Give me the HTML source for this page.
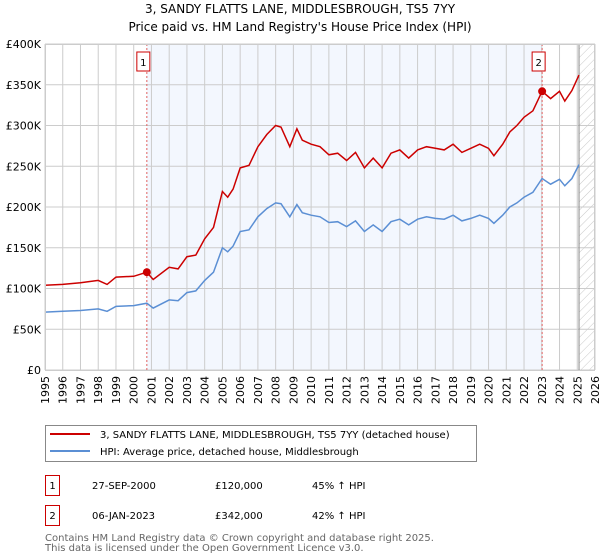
<!DOCTYPE html>
<html><head><meta charset="utf-8"><style>
body{margin:0;background:#fff;}
svg{display:block;font-family:"DejaVu Sans","Liberation Sans",sans-serif;}
</style></head><body>
<svg id="chart" width="600" height="560" viewBox="0 0 600 560">
<defs>
<pattern id="hatch" width="6" height="6" patternUnits="userSpaceOnUse" patternTransform="rotate(45)">
<line x1="0" y1="0" x2="0" y2="6" stroke="#bbb" stroke-width="0.8"/>
</pattern>
</defs>
<text x="300" y="13" text-anchor="middle" font-size="12" fill="#000">3, SANDY FLATTS LANE, MIDDLESBROUGH, TS5 7YY</text>
<text x="300" y="31" text-anchor="middle" font-size="12" fill="#000">Price paid vs. HM Land Registry's House Price Index (HPI)</text>
<g id="plot"></g>
<g>
<rect x="45.5" y="425.5" width="431" height="36" fill="#fff" stroke="#888"/>
<line x1="50" y1="434" x2="90" y2="434" stroke="#cc0000" stroke-width="2"/>
<text x="100" y="438" font-size="10">3, SANDY FLATTS LANE, MIDDLESBROUGH, TS5 7YY (detached house)</text>
<line x1="50" y1="451" x2="90" y2="451" stroke="#5b8fd4" stroke-width="2"/>
<text x="100" y="455" font-size="10">HPI: Average price, detached house, Middlesbrough</text>
</g>
<g font-size="10">
<rect x="45.5" y="475.5" width="14" height="20" fill="#fff" stroke="#cc0000"/>
<text x="52.5" y="489" text-anchor="middle">1</text>
<text x="92" y="489">27-SEP-2000</text>
<text x="215" y="489">£120,000</text>
<text x="312" y="489">45% ↑ HPI</text>
<rect x="45.5" y="505.5" width="14" height="20" fill="#fff" stroke="#cc0000"/>
<text x="52.5" y="519" text-anchor="middle">2</text>
<text x="92" y="519">06-JAN-2023</text>
<text x="215" y="519">£342,000</text>
<text x="312" y="519">42% ↑ HPI</text>
</g>
<text x="45" y="541" font-size="10" fill="#666">Contains HM Land Registry data © Crown copyright and database right 2025.</text>
<text x="45" y="551" font-size="10" fill="#666">This data is licensed under the Open Government Licence v3.0.</text>
</svg>
<script>
const years=[1995,1996,1997,1998,1998.5,1999,2000,2000.74,2001.1,2002,2002.5,2003,2003.5,2004,2004.5,2005,2005.3,2005.6,2006,2006.5,2007,2007.5,2008,2008.3,2008.8,2009.2,2009.5,2010,2010.5,2011,2011.5,2012,2012.5,2013,2013.5,2014,2014.5,2015,2015.5,2016,2016.5,2017,2017.5,2018,2018.5,2019,2019.5,2020,2020.3,2020.8,2021.2,2021.6,2022,2022.5,2023.02,2023.5,2024,2024.3,2024.7,2025.1];
const hpiValues=[71,72,73,75,72,78,79,82,76,86,85,95,97,110,120,150,145,152,170,172,188,198,205,204,188,203,193,190,188,181,182,176,183,170,178,170,182,185,178,185,188,186,185,190,183,186,190,186,180,190,200,205,212,218,235,228,234,226,235,252];
const priceValues=[104,105,107,110,105,114,115,120,111,126,124,139,141,161,175,219,212,222,248,251,274,289,300,298,274,296,282,277,274,264,266,257,267,248,260,248,266,270,260,270,274,272,270,277,267,272,277,272,263,277,292,300,310,318,342,333,342,330,343,362];
const saleYears=[2000.74,2023.02];
const salePrices=[120,342];
const saleLabels=["1","2"];
const yTicks=[0,50,100,150,200,250,300,350,400];
const yTickLabels=["£0","£50K","£100K","£150K","£200K","£250K","£300K","£350K","£400K"];
const xTicks=[1995,1996,1997,1998,1999,2000,2001,2002,2003,2004,2005,2006,2007,2008,2009,2010,2011,2012,2013,2014,2015,2016,2017,2018,2019,2020,2021,2022,2023,2024,2025,2026];

const X0=45,X1=595,Y0=370,Y1=44;
const xs=y=>X0+(y-1995)/(2026-1995)*(X1-X0);
const ys=v=>Y0-v/400*(Y0-Y1);
const NS="http://www.w3.org/2000/svg";
const g=document.getElementById('plot');
function mk(tag,attrs){const e=document.createElementNS(NS,tag);for(const k in attrs)e.setAttribute(k,attrs[k]);g.appendChild(e);return e;}

let r=mk('rect',{x:xs(saleYears[0]),y:Y1,width:xs(saleYears[1])-xs(saleYears[0]),height:Y0-Y1,fill:'#eef3fd',opacity:0.7});


let h=mk('rect',{x:xs(2025.1),y:Y1,width:X1-xs(2025.1),height:Y0-Y1,fill:'url(#hatch)'});


xTicks.forEach(t=>{
 let l=mk('line',{x1:xs(t),y1:Y1,x2:xs(t),y2:Y0,stroke:'#cccccc','stroke-width':1});
 
 
 let tx=mk('text',{transform:`translate(${xs(t)+4},${Y0+6}) rotate(-90)`,'text-anchor':'end','font-size':11});
 tx.textContent=t;
 
 
});
yTicks.forEach((t,i)=>{
 let l=mk('line',{x1:X0,y1:ys(t),x2:X1,y2:ys(t),stroke:'#cccccc','stroke-width':1});
 
 
 let tx=mk('text',{x:X0-4,y:ys(t)+4,'text-anchor':'end','font-size':11});
 tx.textContent=yTickLabels[i];
 
 
});
let vl=mk('line',{x1:xs(2025.1),y1:Y1,x2:xs(2025.1),y2:Y0,stroke:'#888','stroke-width':1});


saleYears.forEach((sy,i)=>{
 let l=mk('line',{x1:xs(sy),y1:Y1,x2:xs(sy),y2:Y0,stroke:'#e06060','stroke-width':1,'stroke-dasharray':'2,2'});
 
 
 let b=mk('rect',{x:xs(sy)-10,y:52,width:13,height:19,fill:'#fff',stroke:'#cc0000'});
 
 
 let t=mk('text',{x:xs(sy)-3.5,y:66,'text-anchor':'middle','font-size':10});
 t.textContent=saleLabels[i];
 
 
});
const path=vals=>vals.map((v,i)=>(i?'L':'M')+xs(years[i]).toFixed(1)+','+ys(v).toFixed(1)).join('');
let hp=mk('path',{d:path(hpiValues),fill:'none',stroke:'#5b8fd4','stroke-width':1.5});


let pp=mk('path',{d:path(priceValues),fill:'none',stroke:'#cc0000','stroke-width':1.5});


saleYears.forEach((sy,i)=>{
 let c=mk('circle',{cx:xs(sy),cy:ys(salePrices[i]),r:4,fill:'#cc0000'});
 
 
});
let fr=mk('rect',{x:X0+0.5,y:Y1+0.5,width:X1-X0-1,height:Y0-Y1,fill:'none',stroke:'#cccccc'});


</script>
</body></html>
